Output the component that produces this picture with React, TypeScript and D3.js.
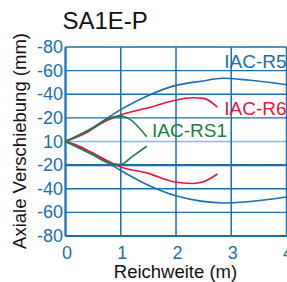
import * as d3 from 'd3'

const xTicks = [0, 1, 2, 3, 4]
const yTicks = [80, 60, 40, 20, 0, -20, -40, -60, -80]
const yTickLabels = ['-80', '-60', '-40', '-20', '10', '-20', '-40', '-60', '-80']

// reach (m), axial deflection (mm); positive = upper branch
const r5Upper = [[0, 0], [0.5, 12], [1, 27], [1.5, 39], [2, 47.5], [2.45, 51], [2.85, 53.5], [3.3, 52], [4, 48]]
const r5Lower = [[0, 0], [0.5, -10], [1, -24.5], [1.5, -37], [2, -46], [2.45, -50.5], [2.85, -52], [3.3, -51], [4, -47]]
const r6Upper = [[0, 0], [0.2, 3.5], [0.4, 8], [0.65, 15.5], [1, 22.5], [1.5, 28.5], [1.95, 34.5], [2.3, 37], [2.5, 36.5], [2.75, 29]]
const r6Lower = [[0, 0], [0.2, -3], [0.5, -10], [1, -21.5], [1.5, -27], [1.95, -34], [2.3, -35.5], [2.5, -34], [2.75, -27.5]]
const rs1Upper = [[0, 0], [0.5, 11.5], [0.8, 20], [1, 21.5], [1.12, 20], [1.47, 4]]
const rs1Lower = [[0, 0], [0.5, -11.5], [0.8, -18.5], [1, -19.5], [1.2, -13], [1.47, -4]]

const BLUE = '#1b6fae'
const RED = '#e5173c'
const GREEN = '#1a7d42'

const series = [
  { name: 'IAC-R5', color: BLUE, lines: [r5Upper, r5Lower], lx: 286.5, ly: 68, anchor: 'end' },
  { name: 'IAC-R6', color: RED, lines: [r6Upper, r6Lower], lx: 286.5, ly: 115, anchor: 'end' },
  { name: 'IAC-RS1', color: GREEN, lines: [rs1Upper, rs1Lower], lx: 152, ly: 137, anchor: 'start' },
]

export default function App() {
  const width = 287
  const height = 282
  const x = d3.scaleLinear().domain([0, 4]).range([65.5, 286.5])
  const y = d3.scaleLinear().domain([-80, 80]).range([236, 47])
  const line = d3
    .line<number[]>()
    .x((d) => x(d[0]))
    .y((d) => y(d[1]))
    .curve(d3.curveMonotoneX)
  const font = 'Liberation Sans, Arial, sans-serif'

  return (
    <svg
      width={width}
      height={height}
      style={{ position: 'absolute', left: 0, top: 0, display: 'block', background: '#fff' }}
      fontFamily={font}
    >
      <text x={62.5} y={29} fontSize={24} fill="#111">SA1E-P</text>

      {yTicks.map((t) => (
        <line
          key={'gy' + t}
          x1={x(0)}
          x2={x(4)}
          y1={y(t)}
          y2={y(t)}
          stroke={t === 0 ? '#8db8dc' : BLUE}
          strokeWidth={t === -20 ? 2.4 : 1.4}
        />
      ))}
      {xTicks.map((t) => (
        <line key={'gx' + t} x1={x(t)} x2={x(t)} y1={y(80)} y2={y(-80)} stroke={BLUE} strokeWidth={1.5} />
      ))}
      <line x1={x(0)} x2={x(0)} y1={y(80)} y2={y(-80)} stroke={BLUE} strokeWidth={2} />
      <line x1={x(0)} x2={x(4)} y1={y(-80)} y2={y(-80)} stroke={BLUE} strokeWidth={2} />

      {yTicks.map((t, i) => (
        <text key={'ty' + t} x={63} y={y(t) + 6} fontSize={18} fill={BLUE} textAnchor="end">
          {yTickLabels[i]}
        </text>
      ))}
      {xTicks.map((t) => (
        <text key={'tx' + t} x={x(t) + 1.5} y={258.5} fontSize={18} fill={BLUE} textAnchor="middle">
          {t}
        </text>
      ))}

      {series.map((s) => (
        <g key={s.name}>
          {s.lines.map((pts, i) => (
            <path key={i} d={line(pts) || ''} fill="none" stroke={s.color} strokeWidth={1.6} />
          ))}
          <text x={s.lx} y={s.ly} fontSize={19} fill={s.color} textAnchor={s.anchor}>
            {s.name}
          </text>
        </g>
      ))}

      <text x={175.5} y={277.5} fontSize={18.5} fill="#111" textAnchor="middle">Reichweite (m)</text>
      <text
        transform={`translate(26, 141) rotate(-90)`}
        fontSize={18.5}
        fill="#111"
        textAnchor="middle"
      >
        Axiale Verschiebung (mm)
      </text>
    </svg>
  )
}
